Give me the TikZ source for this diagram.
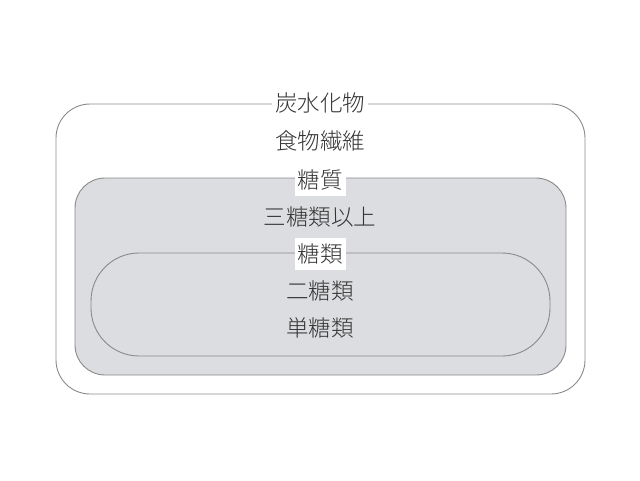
\documentclass[tikz,border=0pt]{standalone}
\usepackage{fontspec}
\setmainfont{Noto Sans CJK JP Light}
\definecolor{boxfill}{HTML}{DCDDE0}
\definecolor{boxline}{HTML}{8A8A8A}
\definecolor{labeltext}{HTML}{333333}
\tikzset{
  group/.style={draw=boxline,line width=0.9pt},
  grouplabel/.style={fill=white,text=labeltext,inner xsep=3pt,inner ysep=6pt,font=\fontsize{22.5}{26}\selectfont},
  itemlabel/.style={text=labeltext,inner sep=0pt,font=\fontsize{22.5}{26}\selectfont}
}
\begin{document}
\begin{tikzpicture}[x=1pt,y=-1pt]
  \useasboundingbox (0,0) rectangle (640,480);
  % outer group, then the shaded group and the pill inside it
  \draw[group,rounded corners=34pt] (56,104) rectangle (585,394);
  \draw[group,fill=boxfill,rounded corners=30pt] (75,178) rectangle (566,375);
  \draw[group,rounded corners=48pt] (91,253) rectangle (550,356);
  % group titles sit on the top edges
  \node[grouplabel] (carb) at (320,103) {炭水化物};
  \node[grouplabel] (sugar) at (320,180) {糖質};
  \node[grouplabel] (sugars) at (320,254) {糖類};
  % members of each group
  \node[itemlabel] (fiber) at (320,141) {食物繊維};
  \node[itemlabel] (tri) at (320,217) {三糖類以上};
  \node[itemlabel] (di) at (320,291) {二糖類};
  \node[itemlabel] (mono) at (320,328) {単糖類};
\end{tikzpicture}
\end{document}
